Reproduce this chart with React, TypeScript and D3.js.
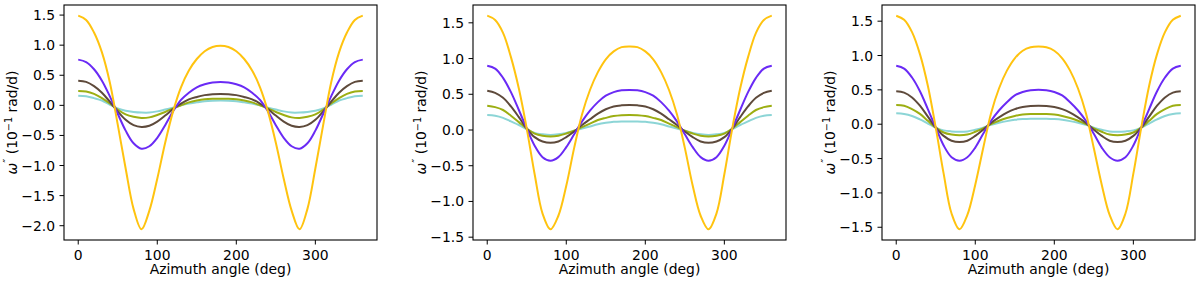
import React from "react";
import * as d3 from "d3";

// azimuth angles (deg) at which the curves are sampled
const angles = [
  0, 10, 20, 30, 40, 50, 60, 70, 80, 90, 100, 110, 120, 130, 140, 150, 160, 170, 180,
  190, 200, 210, 220, 230, 240, 250, 260, 270, 280, 290, 300, 310, 320, 330, 340, 350, 360,
];

// panel 1
const p1Yellow = [1.49,1.42,1.21,0.88,0.38,-0.32,-1.05,-1.72,-2.06,-1.75,-1.22,-0.62,-0.10,0.30,0.58,0.77,0.90,0.97,0.99,0.97,0.90,0.77,0.58,0.30,-0.10,-0.62,-1.22,-1.75,-2.06,-1.72,-1.05,-0.32,0.38,0.88,1.21,1.42,1.49];
const p1Purple = [0.76,0.72,0.60,0.41,0.15,-0.14,-0.42,-0.63,-0.72,-0.68,-0.54,-0.33,-0.10,0.09,0.21,0.30,0.35,0.38,0.39,0.38,0.35,0.30,0.21,0.09,-0.10,-0.33,-0.54,-0.68,-0.72,-0.63,-0.42,-0.14,0.15,0.41,0.60,0.72,0.76];
const p1Brown = [0.41,0.39,0.32,0.21,0.06,-0.10,-0.24,-0.33,-0.36,-0.34,-0.27,-0.17,-0.06,0.03,0.10,0.14,0.17,0.185,0.19,0.185,0.17,0.14,0.10,0.03,-0.06,-0.17,-0.27,-0.34,-0.36,-0.33,-0.24,-0.10,0.06,0.21,0.32,0.39,0.41];
const p1Olive = [0.24,0.23,0.19,0.12,0.03,-0.07,-0.15,-0.19,-0.21,-0.20,-0.16,-0.11,-0.05,0.00,0.05,0.08,0.10,0.108,0.11,0.108,0.10,0.08,0.05,0.00,-0.05,-0.11,-0.16,-0.20,-0.21,-0.19,-0.15,-0.07,0.03,0.12,0.19,0.23,0.24];
const p1Cyan = [0.16,0.15,0.12,0.08,0.01,-0.05,-0.09,-0.11,-0.12,-0.12,-0.10,-0.07,-0.04,0.00,0.03,0.05,0.07,0.078,0.08,0.078,0.07,0.05,0.03,0.00,-0.04,-0.07,-0.10,-0.12,-0.12,-0.11,-0.09,-0.05,0.01,0.08,0.12,0.15,0.16];

// panel 2
const p2Yellow = [1.60,1.54,1.36,1.02,0.58,0.02,-0.62,-1.17,-1.39,-1.20,-0.78,-0.25,0.22,0.56,0.81,0.99,1.10,1.16,1.17,1.16,1.10,0.99,0.81,0.56,0.22,-0.25,-0.78,-1.20,-1.39,-1.17,-0.62,0.02,0.58,1.02,1.36,1.54,1.60];
const p2Purple = [0.90,0.86,0.73,0.53,0.28,0.02,-0.22,-0.38,-0.43,-0.38,-0.24,-0.06,0.12,0.27,0.39,0.48,0.53,0.555,0.56,0.555,0.53,0.48,0.39,0.27,0.12,-0.06,-0.24,-0.38,-0.43,-0.38,-0.22,0.02,0.28,0.53,0.73,0.86,0.90];
const p2Brown = [0.55,0.52,0.45,0.33,0.18,0.02,-0.10,-0.16,-0.18,-0.16,-0.10,-0.02,0.07,0.15,0.23,0.29,0.33,0.345,0.35,0.345,0.33,0.29,0.23,0.15,0.07,-0.02,-0.10,-0.16,-0.18,-0.16,-0.10,0.02,0.18,0.33,0.45,0.52,0.55];
const p2Olive = [0.34,0.32,0.28,0.20,0.11,0.02,-0.05,-0.08,-0.09,-0.08,-0.05,-0.01,0.04,0.09,0.14,0.17,0.195,0.207,0.21,0.207,0.195,0.17,0.14,0.09,0.04,-0.01,-0.05,-0.08,-0.09,-0.08,-0.05,0.02,0.11,0.20,0.28,0.32,0.34];
const p2Cyan = [0.21,0.20,0.17,0.12,0.07,0.01,-0.04,-0.06,-0.07,-0.06,-0.04,-0.01,0.02,0.05,0.08,0.10,0.115,0.12,0.12,0.12,0.115,0.10,0.08,0.05,0.02,-0.01,-0.04,-0.06,-0.07,-0.06,-0.04,0.01,0.07,0.12,0.17,0.20,0.21];

// panel 3
const p3Yellow = [1.58,1.52,1.34,1.02,0.56,-0.05,-0.72,-1.30,-1.53,-1.32,-0.88,-0.35,0.16,0.52,0.78,0.96,1.07,1.12,1.13,1.12,1.07,0.96,0.78,0.52,0.16,-0.35,-0.88,-1.32,-1.53,-1.30,-0.72,-0.05,0.56,1.02,1.34,1.52,1.58];
const p3Purple = [0.85,0.81,0.68,0.48,0.22,-0.05,-0.31,-0.48,-0.53,-0.48,-0.34,-0.14,0.05,0.20,0.32,0.42,0.47,0.495,0.50,0.495,0.47,0.42,0.32,0.20,0.05,-0.14,-0.34,-0.48,-0.53,-0.48,-0.31,-0.05,0.22,0.48,0.68,0.81,0.85];
const p3Brown = [0.48,0.46,0.39,0.27,0.11,-0.05,-0.17,-0.24,-0.26,-0.24,-0.17,-0.08,0.02,0.10,0.17,0.22,0.25,0.265,0.27,0.265,0.25,0.22,0.17,0.10,0.02,-0.08,-0.17,-0.24,-0.26,-0.24,-0.17,-0.05,0.11,0.27,0.39,0.46,0.48];
const p3Olive = [0.28,0.27,0.22,0.15,0.05,-0.05,-0.12,-0.15,-0.16,-0.15,-0.11,-0.06,0.00,0.05,0.09,0.12,0.14,0.148,0.15,0.148,0.14,0.12,0.09,0.05,0.00,-0.06,-0.11,-0.15,-0.16,-0.15,-0.12,-0.05,0.05,0.15,0.22,0.27,0.28];
const p3Cyan = [0.16,0.15,0.12,0.07,0.01,-0.05,-0.09,-0.105,-0.11,-0.105,-0.08,-0.05,-0.01,0.02,0.045,0.065,0.075,0.08,0.08,0.08,0.075,0.065,0.045,0.02,-0.01,-0.05,-0.08,-0.105,-0.11,-0.105,-0.09,-0.05,0.01,0.07,0.12,0.15,0.16];

const xTicks = [0, 100, 200, 300];
// drawing order: first is at the bottom
const colors = ["#8cd5d6", "#9cae12", "#5e4a3b", "#6a2af5", "#ffc30f"];

const panels = [
  [p1Cyan, p1Olive, p1Brown, p1Purple, p1Yellow],
  [p2Cyan, p2Olive, p2Brown, p2Purple, p2Yellow],
  [p3Cyan, p3Olive, p3Brown, p3Purple, p3Yellow],
];

const lefts = [64, 473, 882];
const top = 5;
const w = 313;
const h = 235;
const font = "DejaVu Sans, sans-serif";
const fs = 13.9;

function Panel({ series, left }: { series: number[][]; left: number }) {
  const x = d3.scaleLinear().domain([-18, 378]).range([left, left + w]);
  const all = series.flat();
  const [lo, hi] = d3.extent(all) as [number, number];
  const pad = (hi - lo) * 0.05;
  const y = d3.scaleLinear().domain([lo - pad, hi + pad]).range([top + h, top]);
  const yTicks = y.ticks(8).filter((t) => Math.abs(t * 2 - Math.round(t * 2)) < 1e-9);
  const fmt = d3.format(".1f");

  const line = d3
    .line<number>()
    .x((_, i) => x(angles[i]))
    .y((d) => y(d))
    .curve(d3.curveCatmullRom.alpha(0.5));

  return (
    <g fontFamily={font} fontSize={fs}>
      {series.map((s, i) => (
        <path key={i} d={line(s) || ""} fill="none" stroke={colors[i]} strokeWidth={2} />
      ))}
      <rect x={left} y={top} width={w} height={h} fill="none" stroke="#000" strokeWidth={1.1} />
      {yTicks.map((t) => (
        <g key={t}>
          <line x1={left - 4.5} x2={left} y1={y(t)} y2={y(t)} stroke="#000" />
          <text x={left - 9} y={y(t)} dy="0.36em" textAnchor="end">
            {fmt(t)}
          </text>
        </g>
      ))}
      {xTicks.map((t) => (
        <g key={t}>
          <line x1={x(t)} x2={x(t)} y1={top + h} y2={top + h + 4.5} stroke="#000" />
          <text x={x(t)} y={top + h + 19.5} textAnchor="middle">
            {t}
          </text>
        </g>
      ))}
      <text x={left + w / 2} y={274} textAnchor="middle">
        Azimuth angle (deg)
      </text>
      <text transform={`translate(${left - 47},${top + h / 2}) rotate(-90)`} textAnchor="middle">
        <tspan fontStyle="italic">ω</tspan>
        <tspan fontSize={11} dy={-6}>″</tspan>
        <tspan dy={6}> (10</tspan>
        <tspan fontSize={9.7} dy={-5.5}>−1</tspan>
        <tspan dy={5.5}> rad/d)</tspan>
      </text>
    </g>
  );
}

export default function App() {
  return (
    <svg width={1200} height={283} style={{ position: "absolute", left: 0, top: 0, background: "#fff" }}>
      {panels.map((s, i) => (
        <Panel key={i} series={s} left={lefts[i]} />
      ))}
    </svg>
  );
}
